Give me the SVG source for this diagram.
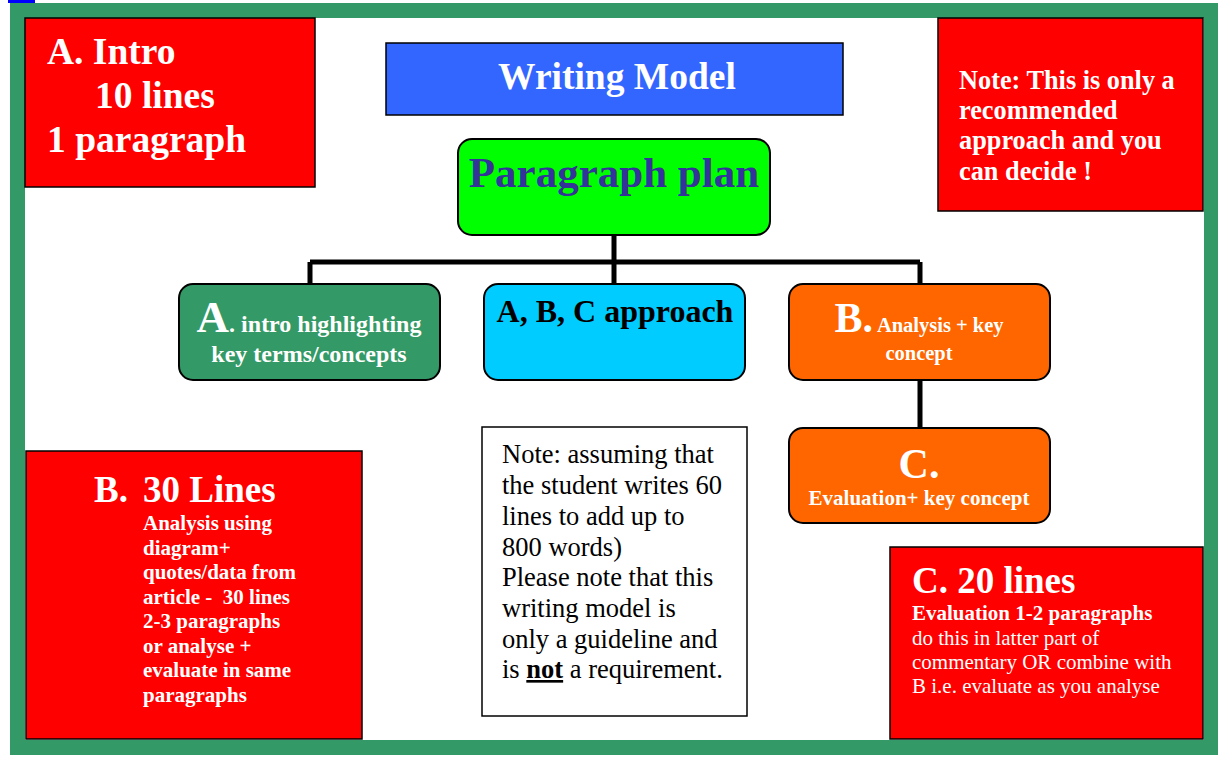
<svg xmlns="http://www.w3.org/2000/svg" width="1218" height="758" viewBox="0 0 1218 758">
<style>
.box{stroke:#000;stroke-width:1.5}
.red{fill:#FF0000}
.rnd{stroke:#000;stroke-width:2}
.t{font-family:"Liberation Serif","Times New Roman",serif;font-weight:bold;fill:#fff}
.r{font-family:"Liberation Serif","Times New Roman",serif;font-weight:normal}
.conn{stroke:#000;stroke-width:5;fill:none}
</style>
<rect x="8" y="0" width="27" height="3" fill="#0000FF"/>
<g id="frame">
<rect x="10" y="3" width="1208" height="752" fill="#339966"/>
<rect x="25" y="18" width="1179" height="722" fill="#fff"/>
</g>
<g id="connectors">
<path class="conn" d="M614 235 V262 M310 262 H920 M310 262 V284 M614 262 V284 M920 262 V284 M920 380 V428"/>
</g>
<g id="intro">
<rect class="box red" x="25" y="18" width="290" height="169"/>
<text class="t" font-size="37.5"><tspan x="47" y="64">A. Intro</tspan><tspan x="95" y="108">10 lines</tspan><tspan x="47" y="152">1 paragraph</tspan></text>
</g>
<g id="title">
<rect class="box" x="386" y="43" width="457" height="72" fill="#3366FF"/>
<text class="t" font-size="37.5" x="617" y="89" text-anchor="middle">Writing Model</text>
</g>
<g id="note-top">
<rect class="box red" x="938" y="18" width="265" height="193"/>
<text class="t" font-size="26.3"><tspan x="959" y="89">Note: This is only a</tspan><tspan x="959" y="119">recommended</tspan><tspan x="959" y="149">approach and you</tspan><tspan x="959" y="180">can decide !</tspan></text>
</g>
<g id="plan">
<rect class="rnd" x="458" y="139" width="312" height="96" rx="14" fill="#00FF00"/>
<text class="t" font-size="43" x="614" y="187" text-anchor="middle" style="fill:#333399">Paragraph plan</text>
</g>
<g id="nodeA">
<rect class="rnd" x="179" y="284" width="261" height="96" rx="14" fill="#339966"/>
<text class="t" x="309" y="332" text-anchor="middle"><tspan font-size="45">A</tspan><tspan font-size="24">. intro highlighting</tspan></text>
<text class="t" font-size="24" x="309" y="362" text-anchor="middle">key terms/concepts</text>
</g>
<g id="nodeABC">
<rect class="rnd" x="484" y="284" width="261" height="96" rx="14" fill="#00CCFF"/>
<text class="t" font-size="32" x="615" y="322" text-anchor="middle" style="fill:#000">A, B, C approach</text>
</g>
<g id="nodeB">
<rect class="rnd" x="789" y="284" width="261" height="96" rx="14" fill="#FF6600"/>
<text class="t" x="919" y="332" text-anchor="middle"><tspan font-size="42">B.</tspan><tspan font-size="20.5"> Analysis + key</tspan></text>
<text class="t" font-size="20.5" x="919" y="360" text-anchor="middle">concept</text>
</g>
<g id="nodeC">
<rect class="rnd" x="789" y="428" width="261" height="95" rx="14" fill="#FF6600"/>
<text class="t" font-size="42" x="919" y="478" text-anchor="middle">C.</text>
<text class="t" font-size="21" x="919" y="505" text-anchor="middle">Evaluation+ key concept</text>
</g>
<g id="b30">
<rect class="box red" x="26" y="451" width="336" height="288"/>
<text class="t" font-size="37"><tspan x="94" y="502">B.</tspan><tspan x="143" y="502">30 Lines</tspan></text>
<text class="t" font-size="21"><tspan x="143" y="530">Analysis using</tspan><tspan x="143" y="555">diagram+</tspan><tspan x="143" y="579">quotes/data from</tspan><tspan x="143" y="604" xml:space="preserve">article -  30 lines</tspan><tspan x="143" y="628">2-3 paragraphs</tspan><tspan x="143" y="653">or analyse +</tspan><tspan x="143" y="677">evaluate in same</tspan><tspan x="143" y="702">paragraphs</tspan></text>
</g>
<g id="note-mid">
<rect class="box" x="482" y="427" width="265" height="289" fill="#fff"/>
<text class="r" font-size="26.5" fill="#000"><tspan x="502" y="463">Note: assuming that</tspan><tspan x="502" y="494">the student writes 60</tspan><tspan x="502" y="525">lines to add up to</tspan><tspan x="502" y="556">800 words)</tspan><tspan x="502" y="586">Please note that this</tspan><tspan x="502" y="617">writing model is</tspan><tspan x="502" y="648">only a guideline and</tspan><tspan x="502" y="678">is <tspan font-weight="bold" text-decoration="underline">not</tspan> a requirement.</tspan></text>
</g>
<g id="c20">
<rect class="box red" x="890" y="547" width="313" height="192"/>
<text class="t" font-size="37" x="912" y="593">C. 20 lines</text>
<text class="t" font-size="21" x="912" y="620">Evaluation 1-2 paragraphs</text>
<text class="r" font-size="21" fill="#fff"><tspan x="912" y="645">do this in latter part of</tspan><tspan x="912" y="669">commentary OR combine with</tspan><tspan x="912" y="693">B i.e. evaluate as you analyse</tspan></text>
</g>
</svg>
